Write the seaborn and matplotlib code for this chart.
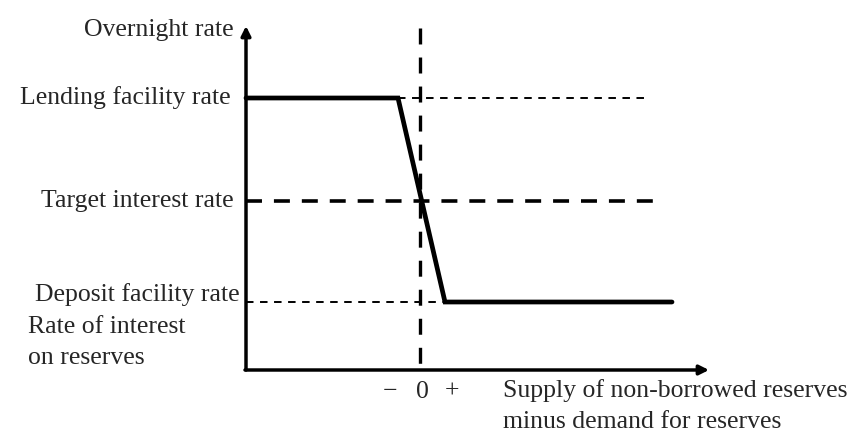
import matplotlib
matplotlib.use("Agg")
import matplotlib.pyplot as plt
import seaborn as sns
import pandas as pd

# Schematic values (x: reserves relative to zero, y: rate level)
curve_x = [-17.4, -2.2, 2.5, 25.2]
curve_y = [27.2, 27.2, 6.8, 6.8]
lending_rate = 27.2
target_rate = 16.9
deposit_rate = 6.8
y_axis_x = -17.4
x_axis_end = 28.9
y_axis_top = 34.4
vline_top = 34.2
lending_ref_end = 23.0
target_ref_end = 23.5
tick_labels = ["\u2212", "0", "+"]
tick_pos = [-3.0, 0.2, 3.2]

sns.set_theme(style="white")
plt.rcParams['font.family'] = ['Liberation Serif', 'DejaVu Serif']
plt.rcParams['lines.scale_dashes'] = False

fig = plt.figure(figsize=(8.62, 4.33), dpi=100)
ax = fig.add_axes([0, 0, 1, 1])
ax.set_xlim(-42, 44.2)
ax.set_ylim(-6.3, 37)
ax.axis("off")

df = pd.DataFrame({"x": curve_x, "y": curve_y})
sns.lineplot(data=df, x="x", y="y", ax=ax, color="black", linewidth=3.4,
             sort=False, solid_joinstyle="miter", zorder=5)

# reference lines
ax.plot([curve_x[1], lending_ref_end], [lending_rate, lending_rate], color="black",
        linewidth=1.4, dashes=(5.4, 4.7))
ax.plot([y_axis_x, target_ref_end], [target_rate, target_rate], color="black",
        linewidth=2.6, dashes=(11.5, 8.6))
ax.plot([y_axis_x, curve_x[2]], [deposit_rate, deposit_rate], color="black",
        linewidth=1.4, dashes=(5.4, 4.7))
ax.plot([0, 0], [vline_top, 0], color="black", linewidth=2.4, dashes=(11.5, 9.4))

# axes with arrows
ax.annotate("", xy=(y_axis_x, y_axis_top), xytext=(y_axis_x, 0),
            arrowprops=dict(arrowstyle="-|>", color="black", lw=2.5,
                            mutation_scale=14, shrinkA=0, shrinkB=0))
ax.annotate("", xy=(x_axis_end, 0), xytext=(y_axis_x - 0.1, 0),
            arrowprops=dict(arrowstyle="-|>", color="black", lw=2.5,
                            mutation_scale=14, shrinkA=0, shrinkB=0))

fs = 18.5
ax.text(y_axis_x - 1.2, 34.0, "Overnight rate", ha="right", va="center", fontsize=fs)
ax.text(y_axis_x - 1.5, lending_rate, "Lending facility rate", ha="right", va="center", fontsize=fs)
ax.text(y_axis_x - 1.2, target_rate, "Target interest rate", ha="right", va="center", fontsize=fs)
ax.text(y_axis_x - 0.6, deposit_rate + 0.7, "Deposit facility rate", ha="right", va="center", fontsize=fs)
ax.text(-39.2, 4.3, "Rate of interest", ha="left", va="center", fontsize=fs)
ax.text(-39.2, 1.2, "on reserves", ha="left", va="center", fontsize=fs)
for p, t in zip(tick_pos, tick_labels):
    ax.text(p, -2.2, t, ha="center", va="center", fontsize=fs)
ax.text(8.3, -2.1, "Supply of non-borrowed reserves", ha="left", va="center", fontsize=fs)
ax.text(8.3, -5.2, "minus demand for reserves", ha="left", va="center", fontsize=fs)

fig.savefig("out.png", dpi=100)
